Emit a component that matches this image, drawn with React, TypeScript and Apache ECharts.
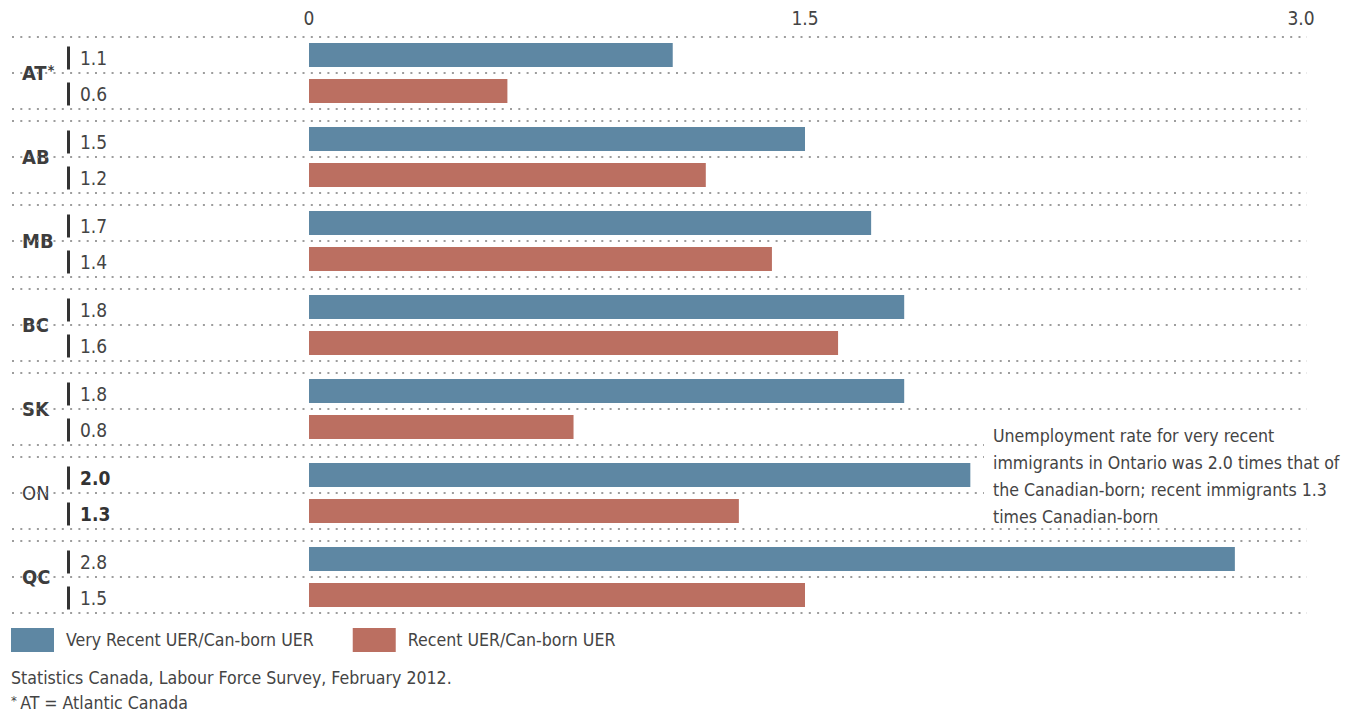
import React, { useEffect, useRef } from "react";
import * as echarts from "echarts";

const categories = ["AT", "AB", "MB", "BC", "SK", "ON", "QC"];
const veryRecent = [1.1, 1.5, 1.7, 1.8, 1.8, 2.0, 2.8];
const recent = [0.6, 1.2, 1.4, 1.6, 0.8, 1.3, 1.5];
const seriesNames = ["Very Recent UER/Can-born UER", "Recent UER/Can-born UER"];
const xTicks = { min: 0, max: 3, interval: 1.5 };
const highlighted = "ON";
const noteText =
  "Unemployment rate for very recent\nimmigrants in Ontario was 2.0 times that of\nthe Canadian-born; recent immigrants 1.3\ntimes Canadian-born";
const sourceText = "Statistics Canada, Labour Force Survey, February 2012.";
const footnoteText = "AT = Atlantic Canada";

const FONT = "'DejaVu Sans Condensed', 'DejaVu Sans', sans-serif";
const BLUE = "#5e87a3";
const RED = "#bb6f61";
const TEXT = "#3d3d3d";
const BODY = 17.6;

function valueLabel(isBold: (i: number) => boolean) {
  return {
    show: true,
    position: [-242, 15],
    align: "left",
    verticalAlign: "middle",
    formatter: (p: any) => {
      const v = (p.value as number).toFixed(1);
      return isBold(p.dataIndex) ? `{t|}{vb|${v}}` : `{t|}{v|${v}}`;
    },
    rich: {
      t: { width: 3, height: 23, backgroundColor: "#333" },
      v: { fontFamily: FONT, fontSize: 19, color: "#444", padding: [0, 0, 0, 10] },
      vb: { fontFamily: FONT, fontSize: 19, fontWeight: "bold", color: "#333", padding: [0, 0, 0, 10] },
    },
  };
}

export default function App() {
  const ref = useRef<HTMLDivElement>(null);
  useEffect(() => {
    if (!ref.current) return;
    const chart = echarts.init(ref.current, null, { renderer: "svg" });
    const hiIdx = categories.indexOf(highlighted);
    chart.setOption({
      animation: false,
      textStyle: { fontFamily: FONT },
      grid: { left: 309, top: 31, width: 992, height: 588, containLabel: false },
      legend: {
        left: 11,
        top: 628,
        padding: 0,
        itemWidth: 43,
        itemHeight: 24,
        itemGap: 39,
        icon: "rect",
        textStyle: { fontFamily: FONT, fontSize: BODY, color: "#444", padding: [0, 0, 0, 7] },
        data: seriesNames,
      },
      xAxis: {
        type: "value",
        position: "top",
        min: xTicks.min,
        max: xTicks.max,
        interval: xTicks.interval,
        axisLine: { show: false },
        axisTick: { show: false },
        splitLine: { show: false },
        axisLabel: {
          margin: 4,
          fontFamily: FONT,
          fontSize: 19,
          color: "#444",
          formatter: (v: number) => (v === 0 ? "0" : v.toFixed(1)),
        },
      },
      yAxis: {
        type: "category",
        inverse: true,
        data: categories,
        axisLine: { show: false },
        axisTick: { show: false },
        splitLine: { show: false },
        axisLabel: {
          align: "left",
          margin: 287,
          formatter: (v: string) =>
            v === highlighted ? `{r|${v}}` : v === "AT" ? `{b|${v}}{s|*}` : `{b|${v}}`,
          rich: {
            b: { fontFamily: FONT, fontSize: 20, fontWeight: "bold", color: TEXT },
            r: { fontFamily: FONT, fontSize: 20, color: TEXT },
            s: { fontFamily: FONT, fontSize: 14, fontWeight: "bold", color: TEXT, padding: [0, 0, 7, 1] },
          },
        },
      },
      series: [
        {
          type: "custom",
          silent: true,
          clip: false,
          z: 1,
          encode: { x: 0, y: 1 },
          data: categories.map((_, i) => [0, i]),
          renderItem: (params: any, api: any) => {
            const c = api.coord([0, api.value(1)]);
            const band = api.size([0, 1])[1];
            const half = band / 2 - 6;
            const style = { stroke: "#9d9d9d", lineWidth: 2, lineDash: [2, 6.3] };
            return {
              type: "group",
              children: [c[1] - half, c[1], c[1] + half].map((y) => ({
                type: "line",
                shape: { x1: 12, y1: y, x2: 1307, y2: y },
                style,
              })),
            };
          },
        },
        {
          name: seriesNames[0],
          type: "bar",
          data: veryRecent,
          barWidth: 24,
          barGap: "50%",
          itemStyle: { color: BLUE },
          label: valueLabel((i) => i === hiIdx),
          z: 3,
        },
        {
          name: seriesNames[1],
          type: "bar",
          data: recent,
          barWidth: 24,
          barGap: "50%",
          itemStyle: { color: RED },
          label: valueLabel((i) => i === hiIdx),
          z: 3,
        },
      ],
      graphic: [
        {
          type: "rect",
          z: 10,
          shape: { x: 984, y: 419, width: 364, height: 103 },
          style: { fill: "#fff" },
        },
        {
          type: "text",
          z: 11,
          x: 993,
          y: 422,
          style: {
            text: noteText,
            fontFamily: FONT,
            fontSize: BODY,
            lineHeight: 27,
            fill: "#444",
          },
        },
        {
          type: "text",
          z: 11,
          x: 11,
          y: 678,
          style: { text: sourceText, fontFamily: FONT, fontSize: BODY, fill: "#444", verticalAlign: "middle" },
        },
        {
          type: "text",
          z: 11,
          x: 11,
          y: 703,
          style: {
            text: `{s|*} {n|${footnoteText}}`,
            verticalAlign: "middle",
            rich: {
              s: { fontFamily: FONT, fontSize: 13, fill: "#444", padding: [0, 0, 6, 0] },
              n: { fontFamily: FONT, fontSize: BODY, fill: "#444" },
            },
          },
        },
      ],
    });
    return () => chart.dispose();
  }, []);
  return (
    <div
      ref={ref}
      style={{ position: "fixed", left: 0, top: 0, width: 1348, height: 717, background: "#fff" }}
    />
  );
}
